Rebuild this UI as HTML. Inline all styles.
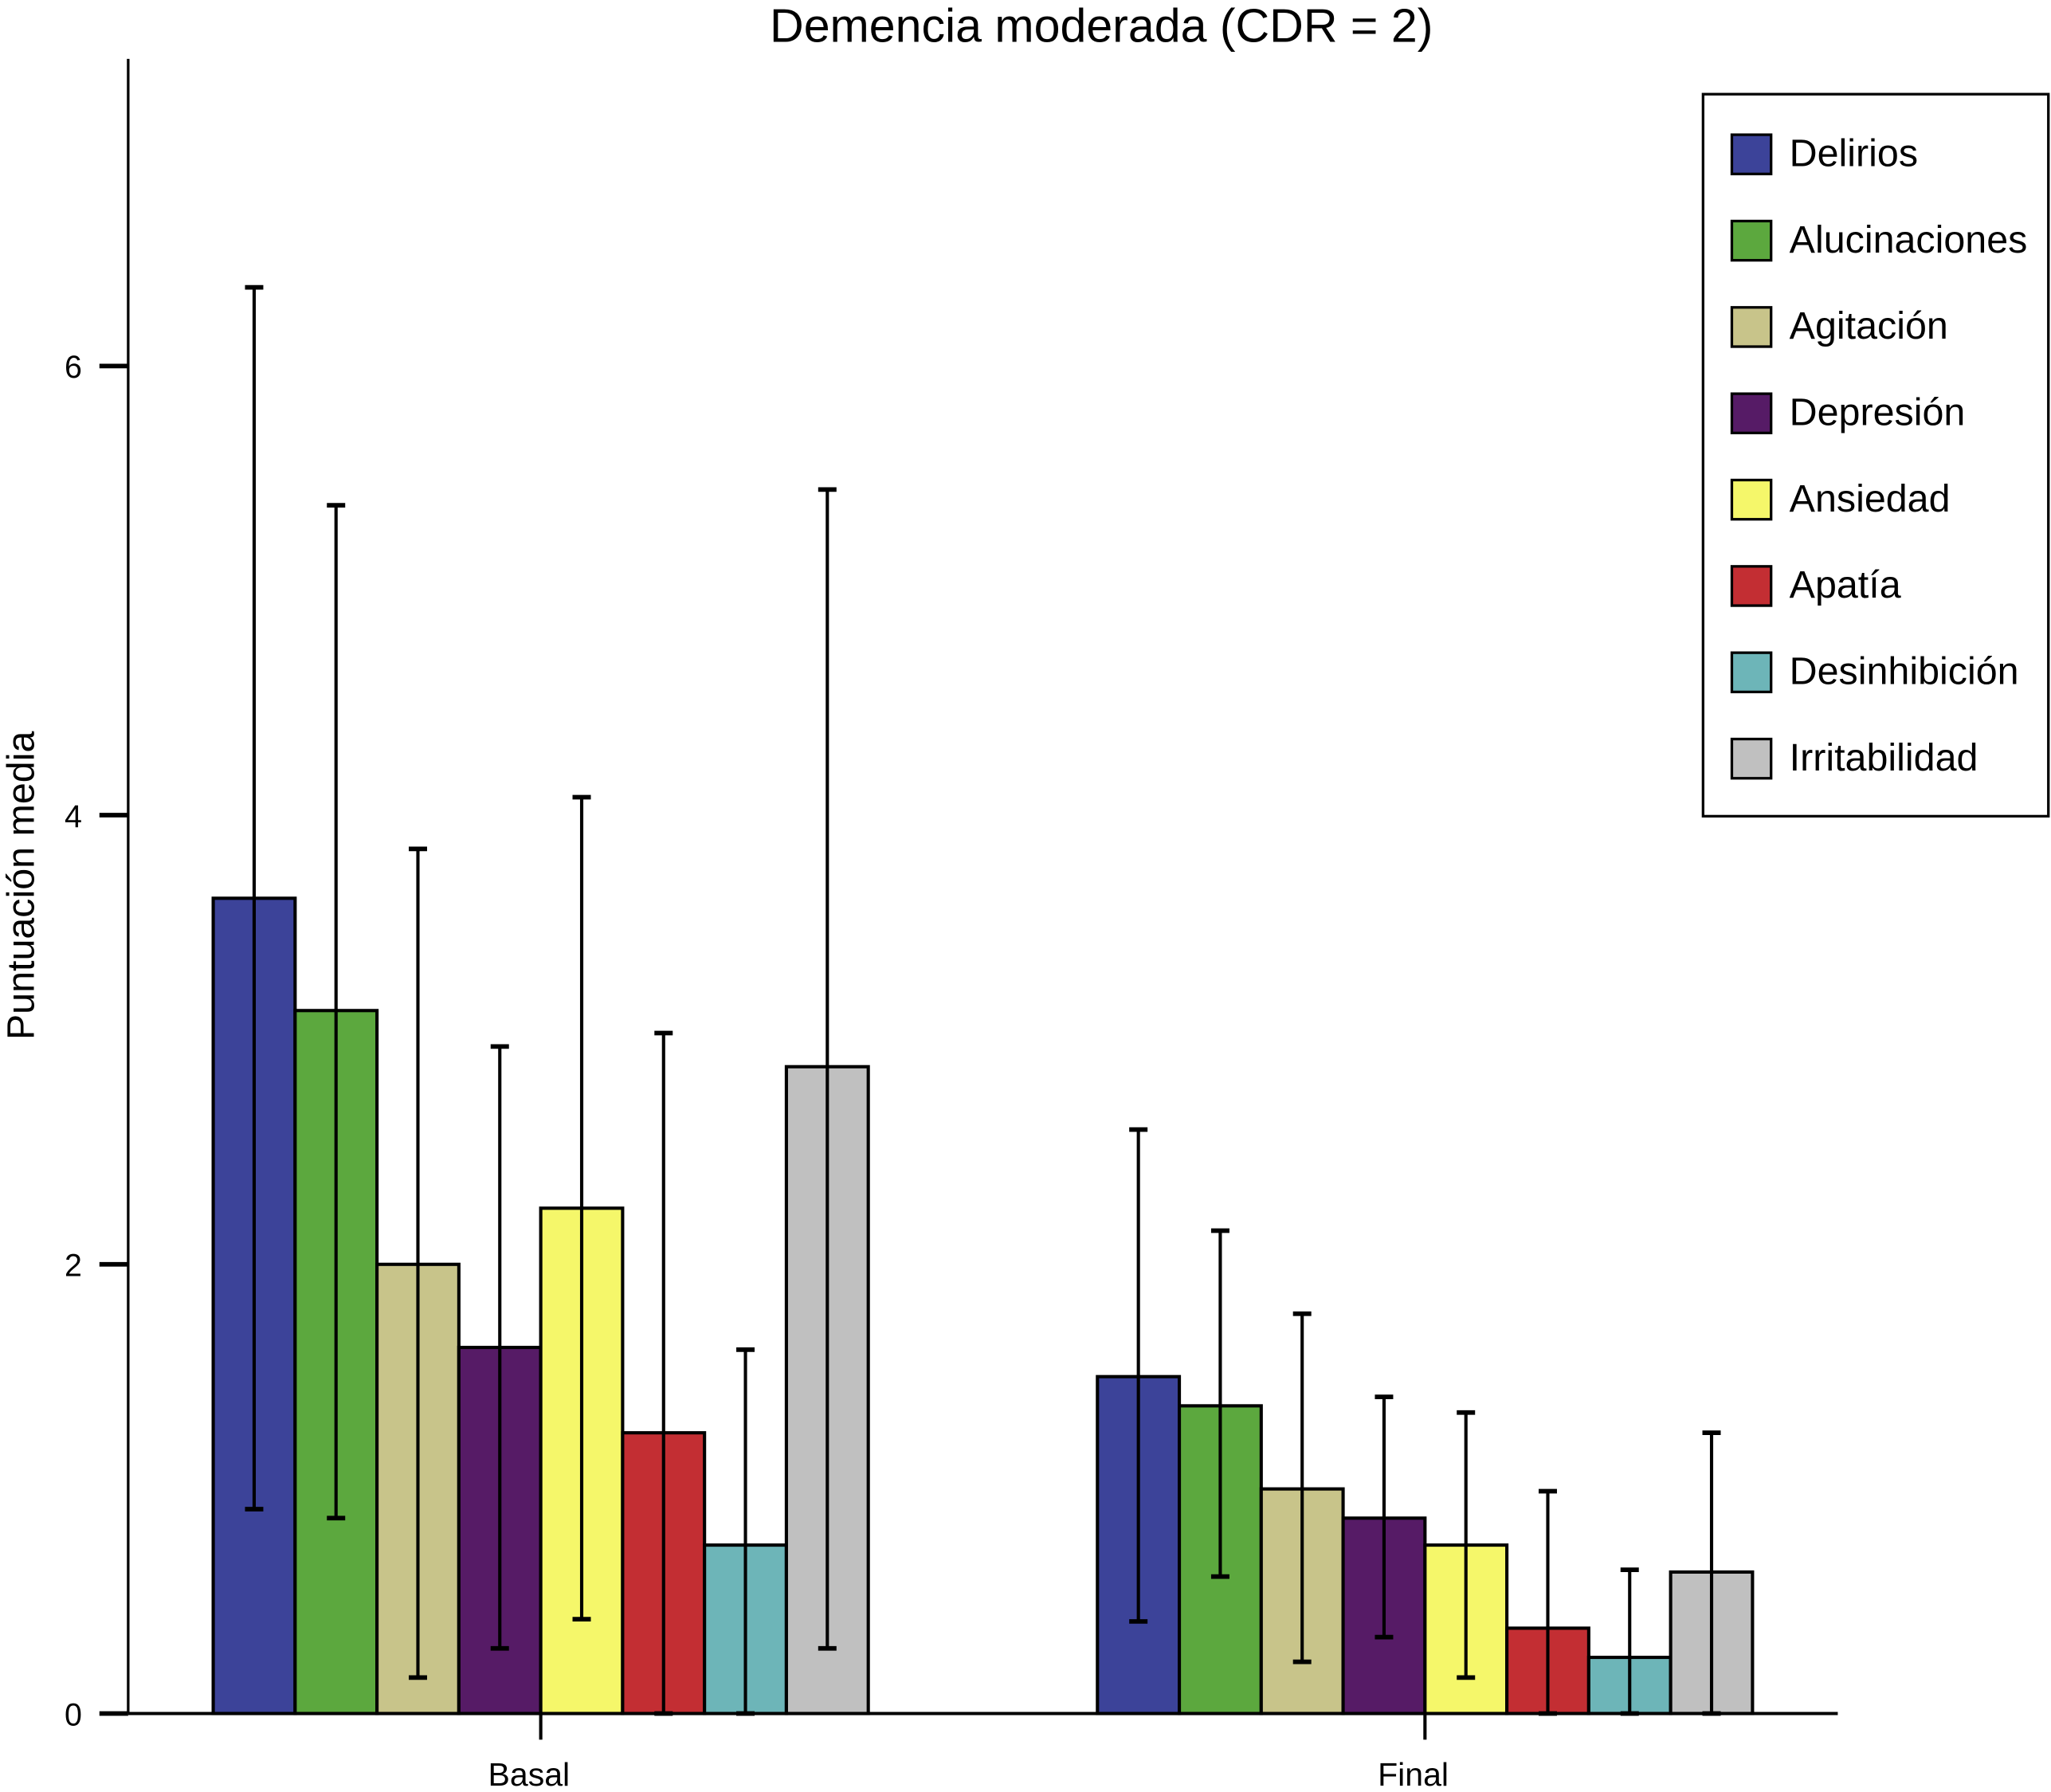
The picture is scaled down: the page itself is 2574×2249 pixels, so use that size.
<!DOCTYPE html>
<html><head><meta charset="utf-8"><style>
html,body{margin:0;padding:0;background:#fff}
svg{display:block;font-family:"Liberation Sans",Arial,sans-serif}
</style></head><body>
<svg id="chart" width="2574" height="2249" viewBox="0 0 1568 1370" preserveAspectRatio="none" xmlns="http://www.w3.org/2000/svg">
<text x="842" y="32" font-size="36" text-anchor="middle">Demencia moderada (CDR = 2)</text>
<text transform="translate(26,677) rotate(-90)" font-size="29.5" text-anchor="middle">Puntuación media</text>
<g id="plot"></g>
<g id="legend"></g>
</svg>
<script>
const categories = ["Basal", "Final"];
const seriesNames = ["Delirios","Alucinaciones","Agitación","Depresión","Ansiedad","Apatía","Desinhibición","Irritabilidad"];
const basalValues = [3.63, 3.13, 2.0, 1.63, 2.25, 1.25, 0.75, 2.88];
const basalUpper = [6.35, 5.38, 3.85, 2.97, 4.08, 3.03, 1.62, 5.45];
const basalLower = [0.91, 0.87, 0.16, 0.29, 0.42, 0, 0, 0.29];
const finalValues = [1.5, 1.37, 1.0, 0.87, 0.75, 0.38, 0.25, 0.63];
const finalUpper = [2.6, 2.15, 1.78, 1.41, 1.34, 0.99, 0.64, 1.25];
const finalLower = [0.41, 0.61, 0.23, 0.34, 0.16, 0, 0, 0];
const yTicks = [0, 2, 4, 6];
const colors = ["#3c4399","#5ca83e","#c8c48a","#561b66","#f5f76a","#c32e33","#6db5b8","#c0c0c0"];

const NS = "http://www.w3.org/2000/svg";
const plot = document.getElementById("plot");
const y0 = 1310, pxPerUnit = 171.7;
const yScale = v => y0 - v * pxPerUnit;
const groupStart = [163, 839], barW = 62.6;
const xBar = (g, i) => groupStart[g] + i * barW;
function mk(tag, attrs, parent) {
  const e = document.createElementNS(NS, tag);
  for (const k in attrs) e.setAttribute(k, attrs[k]);
  (parent || plot).appendChild(e);
  return e;
}
const vals = [basalValues, finalValues], ups = [basalUpper, finalUpper], lows = [basalLower, finalLower];
for (let g = 0; g < 2; g++) {
  for (let i = 0; i < seriesNames.length; i++) {
    const x = xBar(g, i), v = vals[g][i];
    const r = mk("rect", {x: x, y: yScale(v), width: barW, height: y0 - yScale(v), fill: colors[i], stroke: "#000", "stroke-width": 2.5});
    
    
  }
  for (let i = 0; i < seriesNames.length; i++) {
    const cx = xBar(g, i) + barW / 2;
    const eg = mk("g", {stroke: "#000", "stroke-width": 2.5});
    
    
    mk("line", {x1: cx, x2: cx, y1: yScale(ups[g][i]), y2: yScale(lows[g][i])}, eg);
    mk("line", {x1: cx - 7, x2: cx + 7, y1: yScale(ups[g][i]), y2: yScale(ups[g][i]), "stroke-width": 3.5}, eg);
    mk("line", {x1: cx - 7, x2: cx + 7, y1: yScale(lows[g][i]), y2: yScale(lows[g][i]), "stroke-width": 3.5}, eg);
  }
  const center = groupStart[g] + 4 * barW;
  const t = mk("line", {x1: center, x2: center, y1: y0, y2: 1330, stroke: "#000", "stroke-width": 2.5});
  
  
  const lbl = mk("text", {x: center - 9, y: 1365, "font-size": 25, "text-anchor": "middle"});
  lbl.textContent = categories[g];
  
  
}
const ya = mk("line", {x1: 98, x2: 98, y1: 45, y2: y0, stroke: "#000", "stroke-width": 2});


const xa = mk("line", {x1: 98, x2: 1405, y1: y0, y2: y0, stroke: "#000", "stroke-width": 2.5});


yTicks.forEach(v => {
  const tk = mk("line", {x1: 76, x2: 98, y1: yScale(v), y2: yScale(v), stroke: "#000", "stroke-width": 3.5});
  
  
  const tl = mk("text", {x: 56, y: yScale(v) + 9, "font-size": 24, "text-anchor": "middle"});
  tl.textContent = v;
  
  
});
const leg = document.getElementById("legend");
mk("rect", {x: 1302, y: 72, width: 264, height: 552, fill: "#fff", stroke: "#000", "stroke-width": 2}, leg);
seriesNames.forEach((n, i) => {
  const y = 103 + i * 66;
  const eg = mk("g", {}, leg);
  
  
  mk("rect", {x: 1324, y: y, width: 30, height: 30, fill: colors[i], stroke: "#000", "stroke-width": 2}, eg);
  const t = mk("text", {x: 1368, y: y + 24, "font-size": 29.5}, eg);
  t.textContent = n;
});
</script>
</body></html>
